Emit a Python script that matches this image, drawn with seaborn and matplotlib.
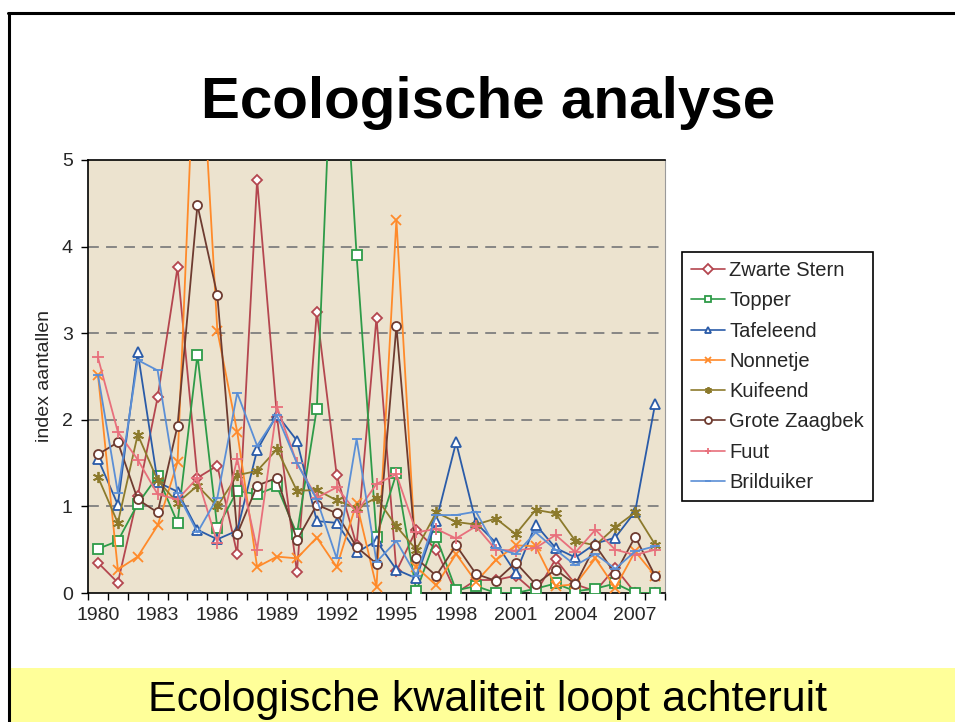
import numpy as np
import pandas as pd
import matplotlib
matplotlib.use('Agg')
import matplotlib.pyplot as plt
from matplotlib.lines import Line2D
from matplotlib.patches import Rectangle
import seaborn as sns

# Data (index aantallen, 1980-2008)
jaren = list(range(1980, 2009))
zwarte_stern = [0.35, 0.12, 1.12, 2.26, 3.76, 1.33, 1.47, 0.45, 4.77, 2.03, 0.24, 3.25, 1.36, 0.55, 3.18,
                0.25, 0.73, 0.50, 0.00, 0.15, 0.15, 0.20, 0.00, 0.39, 0.10, 0.02, 0.29, 0.00, 0.00]
topper = [0.51, 0.60, 1.03, 1.35, 0.81, 2.75, 0.75, 1.18, 1.14, 1.23, 0.68, 2.13, 7.70, 3.90, 0.65,
          1.38, 0.02, 0.65, 0.03, 0.08, 0.00, 0.00, 0.05, 0.11, 0.02, 0.05, 0.11, 0.00, 0.00]
tafeleend = [1.55, 1.02, 2.78, 1.28, 1.17, 0.73, 0.62, 0.72, 1.65, 2.06, 1.76, 0.83, 0.81, 0.47, 0.60,
             0.27, 0.17, 0.83, 1.74, 0.81, 0.58, 0.23, 0.79, 0.52, 0.41, 0.57, 0.64, 0.94, 2.18]
nonnetje = [2.52, 0.27, 0.42, 0.78, 1.51, 7.10, 3.03, 1.86, 0.30, 0.42, 0.40, 0.64, 0.30, 1.04, 0.07,
            4.31, 0.30, 0.09, 0.45, 0.13, 0.38, 0.55, 0.54, 0.08, 0.10, 0.40, 0.06, 0.48, 0.20]
kuifeend = [1.34, 0.81, 1.83, 1.30, 1.04, 1.24, 1.00, 1.36, 1.41, 1.66, 1.18, 1.19, 1.07, 0.98, 1.10,
            0.77, 0.50, 0.93, 0.82, 0.79, 0.86, 0.68, 0.96, 0.92, 0.60, 0.55, 0.76, 0.93, 0.56]
grote_zaagbek = [1.60, 1.74, 1.08, 0.93, 1.93, 4.48, 3.44, 0.68, 1.24, 1.33, 0.61, 1.02, 0.92, 0.53, 0.34,
                 3.08, 0.40, 0.20, 0.55, 0.22, 0.14, 0.35, 0.10, 0.27, 0.10, 0.55, 0.22, 0.65, 0.20]
fuut = [2.72, 1.86, 1.54, 1.14, 1.08, 1.33, 0.58, 1.55, 0.50, 2.15, 1.50, 1.10, 1.22, 0.93, 1.26,
        1.37, 0.70, 0.74, 0.63, 0.77, 0.50, 0.49, 0.52, 0.67, 0.47, 0.73, 0.50, 0.44, 0.50]
brilduiker = [2.52, 1.16, 2.69, 2.57, 1.15, 0.70, 1.10, 2.31, 1.70, 2.05, 1.50, 1.08, 0.40, 1.78, 0.36,
              0.60, 0.20, 0.90, 0.90, 0.94, 0.52, 0.45, 0.70, 0.50, 0.32, 0.45, 0.28, 0.48, 0.54]

soorten = ['Zwarte Stern', 'Topper', 'Tafeleend', 'Nonnetje', 'Kuifeend', 'Grote Zaagbek', 'Fuut', 'Brilduiker']
reeksen = [zwarte_stern, topper, tafeleend, nonnetje, kuifeend, grote_zaagbek, fuut, brilduiker]

df = pd.DataFrame({
    'jaar': np.tile(jaren, len(soorten)),
    'index': np.concatenate(reeksen),
    'soort': np.repeat(soorten, len(jaren)),
})

# stijl per soort: kleur, marker, open marker?, grootte
stijl = {
    'Zwarte Stern': ('#B4464F', 'D', True, 5.5),
    'Topper': ('#2E9B48', 's', True, 6.5),
    'Tafeleend': ('#2A5BA8', '^', True, 7),
    'Nonnetje': ('#FF8A2A', 'x', False, 7),
    'Kuifeend': ('#8C7A2C', (6, 2, 0), False, 8),
    'Grote Zaagbek': ('#6E3B30', 'o', True, 6.5),
    'Fuut': ('#E8707C', '+', False, 9),
    'Brilduiker': ('#5B8FD6', '_', False, 7),
}

sns.set_theme(style='white')
plt.rcParams['font.family'] = ['Liberation Sans', 'DejaVu Sans']

fig = plt.figure(figsize=(9.55, 7.22), dpi=100)
ax = fig.add_axes([88 / 955, 1 - 593 / 722, 577 / 955, 433 / 722])
ax.set_facecolor('#ECE3CF')

for soort in soorten:
    kleur, marker, open_m, ms = stijl[soort]
    sub = df[df['soort'] == soort]
    sns.lineplot(
        data=sub, x='jaar', y='index', ax=ax, estimator=None,
        color=kleur, marker=marker, markersize=ms, linewidth=1.3,
        markerfacecolor='white' if open_m else kleur,
        markeredgecolor=kleur, markeredgewidth=1.3,
        label=soort, zorder=3
    )

ax.set_xlim(1979.5, 2008.5)
ax.set_ylim(0, 5)
ax.set_yticks(range(0, 6))
ax.set_xticks(range(1980, 2009, 3))
ax.set_xticks(np.arange(1979.5, 2009, 1), minor=True)
ax.tick_params(axis='x', which='major', length=0, labelsize=14, pad=10)
ax.tick_params(axis='x', which='minor', length=5, width=1, color='black', direction='out', bottom=True)
ax.tick_params(axis='y', length=5, width=1, color='black', direction='out', left=True, labelsize=14, pad=6)
for y in range(1, 5):
    ax.axhline(y, color='#7F7F7F', linewidth=1.3, linestyle=(0, (6, 4)), zorder=1)
ax.set_xlabel('')
ax.set_ylabel('index aantallen', fontsize=14, labelpad=6)
for kant in ['left', 'bottom', 'top']:
    ax.spines[kant].set_color('black')
    ax.spines[kant].set_linewidth(1.2)
ax.spines['right'].set_color('#9A9A9A')
ax.spines['right'].set_linewidth(0.8)

leg = ax.legend(
    loc='upper left', bbox_to_anchor=(682 / 955, 1 - 252 / 722), bbox_transform=fig.transFigure,
    fontsize=14.5, frameon=True, fancybox=False, edgecolor='black', framealpha=1,
    labelspacing=0.56, handlelength=1.7, handletextpad=0.2, borderpad=0.45, borderaxespad=0
)
leg.get_frame().set_linewidth(1.2)
for lijn in leg.get_lines():
    lijn.set_linewidth(1.2)
    lijn.set_markersize(5)

# slide elementen
fig.text(488 / 955, 1 - 103 / 722, 'Ecologische analyse', ha='center', va='center',
         fontsize=42, fontweight='bold', color='black')
fig.patches.append(Rectangle((10 / 955, 0), 1, 54 / 722, transform=fig.transFigure,
                             facecolor='#FFFF99', edgecolor='none', zorder=0))
fig.text(488 / 955, 1 - 700 / 722, 'Ecologische kwaliteit loopt achteruit', ha='center', va='center',
         fontsize=31, color='black')
fig.lines.append(Line2D([8.5 / 955, 8.5 / 955], [0, 1 - 12.5 / 722], transform=fig.transFigure,
                        color='black', linewidth=2.2))
fig.lines.append(Line2D([7.5 / 955, 1], [1 - 12.5 / 722, 1 - 12.5 / 722], transform=fig.transFigure,
                        color='black', linewidth=2.2))

fig.savefig('out.png', dpi=100)
